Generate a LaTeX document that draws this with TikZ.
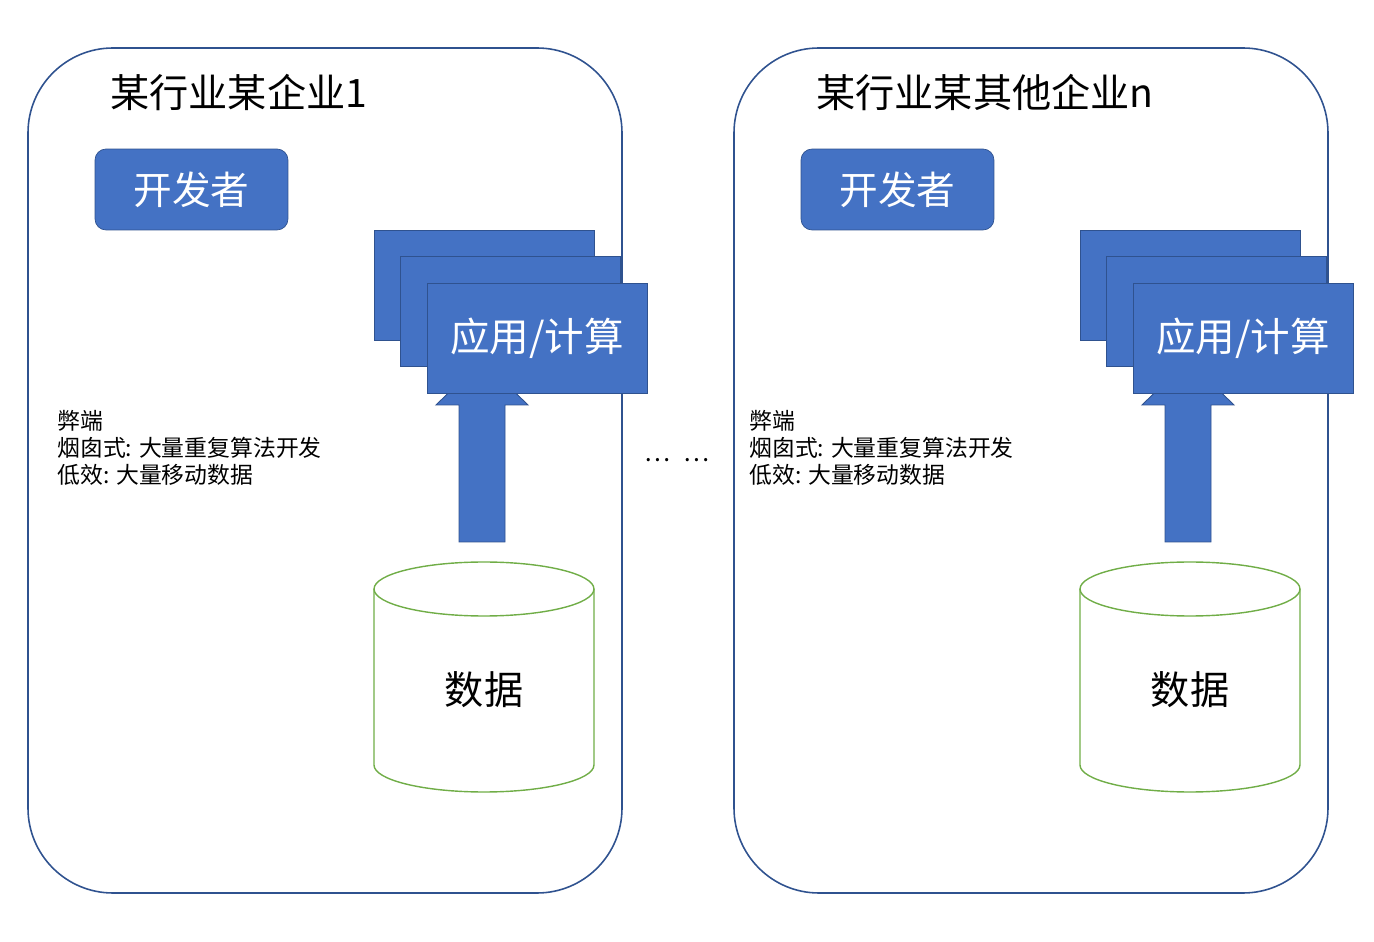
\documentclass[tikz,border=0pt]{standalone}
\usepackage{fontspec}
\setmainfont{Noto Sans CJK SC}
\definecolor{boxblue}{HTML}{4472C4}
\definecolor{edgeblue}{HTML}{2F528F}
\definecolor{datagreen}{HTML}{70AD47}

\begin{document}
\begin{tikzpicture}[x=0.02cm, y=-0.02cm,
  frame/.style={draw=edgeblue, line width=0.9pt, rounded corners=1.7cm},
  devbox/.style={draw=edgeblue, fill=boxblue, rounded corners=0.22cm, text=white,
    font=\fontsize{22}{26}\selectfont, minimum width=3.86cm, minimum height=1.62cm, inner sep=0pt},
  appbox/.style={draw=edgeblue, fill=boxblue, text=white,
    font=\fontsize{22.5}{26}\selectfont, minimum width=4.4cm, minimum height=2.2cm, inner sep=0pt},
  upfill/.style={draw=edgeblue, fill=boxblue, line width=0.5pt},
  datacyl/.style={draw=datagreen, line width=0.8pt},
  bigtext/.style={font=\fontsize{22.3}{26}\selectfont, inner sep=0pt},
  note/.style={font=\fontsize{13}{15.3}\selectfont, align=left, inner sep=0pt}]

\useasboundingbox (0,0) rectangle (1374,942);

\foreach \dx/\title/\i/\nx in {0/某行业某企业1/1/57, 706/某行业某其他企业n/2/43}{
\begin{scope}[xshift=\dx*0.02cm]
% enterprise frame and title
	\draw[frame] (28,48) rectangle (622,893);
	\node[bigtext, anchor=west] (title\i) at (110,92) {\title};

% developer
	\node[devbox] (dev\i) at (191.5,189.5) {开发者};

% note
	\node[note, anchor=west] (note\i) at (\nx,448) {弊端\\烟囱式: 大量重复算法开发\\低效: 大量移动数据};

% data store
	\draw[datacyl] (374,589) -- (374,765)
		arc[start angle=180, end angle=360, x radius=2.2cm, y radius=0.54cm] -- (594,589);
	\draw[datacyl] (484,589) ellipse [x radius=2.2cm, y radius=0.54cm];
	\node[bigtext] (data\i) at (484,690) {数据};

% upward arrow, data to computing
	\coordinate (foot\i) at (482,542);
	\fill[upfill] (foot\i) ++(-23,0) -- ++(0,-137) -- ++(-23,0) -- ++(46,-45)
		-- ++(46,45) -- ++(-23,0) -- ++(0,137) -- cycle;

% stacked applications
	\node[appbox] (appa\i) at (484,285) {};
	\node[appbox] (appb\i) at (510.5,311) {};
	\node[appbox] (app\i) at (537,338) {应用/计算};
\end{scope}
}

% between the two
\node[font=\fontsize{14}{16}\selectfont, inner sep=0pt] (dots) at (677,460) {…\hspace{0.55em}…};

\end{tikzpicture}
\end{document}
